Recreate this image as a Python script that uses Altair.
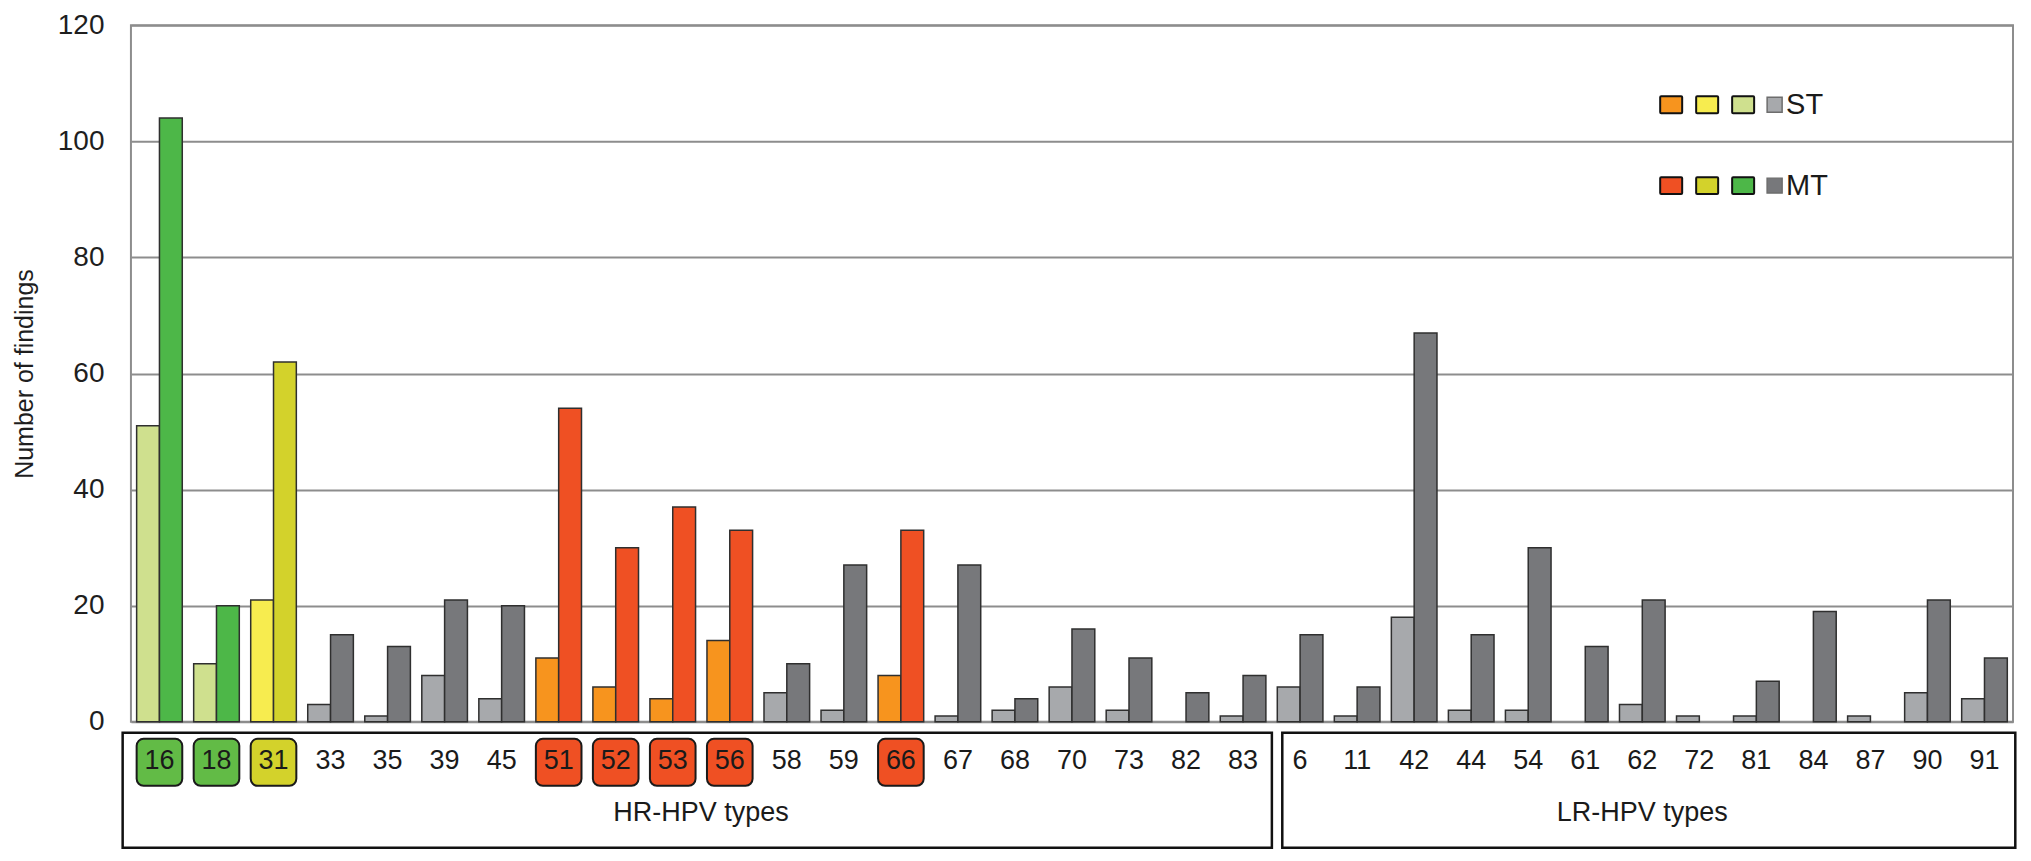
import altair as alt
import pandas as pd

# ---- data ----
hr_types = ["16", "18", "31", "33", "35", "39", "45", "51", "52", "53",
            "56", "58", "59", "66", "67", "68", "70", "73", "82", "83"]
hr_st = [51, 10, 21, 3, 1, 8, 4, 11, 6, 4, 14, 5, 2, 8, 1, 2, 6, 2, 0, 1]
hr_mt = [104, 20, 62, 15, 13, 21, 20, 54, 30, 37, 33, 10, 27, 33, 27, 4, 16, 11, 5, 8]

lr_types = ["6", "11", "42", "44", "54", "61", "62", "72", "81", "84", "87", "90", "91"]
lr_st = [6, 1, 18, 2, 2, 0, 3, 1, 1, 0, 1, 5, 4]
lr_mt = [15, 6, 67, 15, 30, 13, 21, 0, 7, 19, 0, 21, 11]

green_types = ["16", "18"]
yellow_types = ["31"]
red_types = ["51", "52", "53", "56", "66"]

series = ["ST", "MT"]
group_names = ["HR-HPV types", "LR-HPV types"]

# colours
palette = {
    "green-ST": "#cfe08e", "green-MT": "#4db748",
    "yellow-ST": "#f7ec4f", "yellow-MT": "#d3d22b",
    "red-ST": "#f7941e", "red-MT": "#ef5023",
    "gray-ST": "#a7a9ac", "gray-MT": "#77787b",
}
badge_colors = {"green": "#62bb46", "yellow": "#d3d22b", "red": "#ef5023"}

all_types = hr_types + lr_types


def group_of(t):
    if t in green_types:
        return "green"
    if t in yellow_types:
        return "yellow"
    if t in red_types:
        return "red"
    return "gray"


rows = []
for t, s, m in zip(all_types, hr_st + lr_st, hr_mt + lr_mt):
    g = group_of(t)
    rows.append({"type": t, "series": "ST", "value": s, "key": f"{g}-ST"})
    rows.append({"type": t, "series": "MT", "value": m, "key": f"{g}-MT"})
df = pd.DataFrame(rows)
df = df[df["value"] > 0]

labels = pd.DataFrame({"type": all_types})
labels["badge"] = [badge_colors.get(group_of(t)) for t in all_types]
badges = labels[labels["badge"].notna()]

W, H = 1883, 697
FONT = "Liberation Sans"

x_scale = alt.Scale(domain=all_types, paddingInner=0.2, paddingOuter=0.1)

bars = alt.Chart(df).mark_bar(stroke="#2f2f2f", strokeWidth=1.5).encode(
    x=alt.X("type:N", scale=x_scale, axis=None, sort=all_types),
    xOffset=alt.XOffset("series:N", scale=alt.Scale(domain=series, paddingInner=0, paddingOuter=0)),
    y=alt.Y("value:Q",
            scale=alt.Scale(domain=[0, 120], nice=False),
            axis=alt.Axis(values=[0, 20, 40, 60, 80, 100, 120], grid=True,
                          gridColor="#8d8d8d", gridWidth=2, domain=False, ticks=False,
                          labelFont=FONT, labelFontSize=28, labelColor="#1e1e1e",
                          labelPadding=27,
                          title="Number of findings", titleFont=FONT, titleFontSize=25,
                          titleFontWeight="normal", titleColor="#1e1e1e",
                          titleBaseline="alphabetic",
                          titleX=-98, titleY=H / 2)),
    color=alt.Color("key:N", scale=alt.Scale(domain=list(palette.keys()),
                                             range=list(palette.values())), legend=None),
)

badge_layer = alt.Chart(badges).mark_rect(cornerRadius=7, stroke="#1a1a1a", strokeWidth=2).encode(
    x=alt.X("type:N", scale=x_scale, axis=None),
    y=alt.value(714), y2=alt.value(761),
    color=alt.Color("badge:N", scale=None),
)

label_layer = alt.Chart(labels).mark_text(font=FONT, fontSize=27, color="#1a1a1a",
                                          baseline="middle").encode(
    x=alt.X("type:N", scale=x_scale, axis=None),
    y=alt.value(736),
    text="type:N",
)

hr_box = alt.Chart(pd.DataFrame({"start": [hr_types[0]], "end": [hr_types[-1]]})).mark_rect(
    fill=None, stroke="#111111", strokeWidth=2.5, xOffset=-14, x2Offset=6).encode(
    x=alt.X("start:N", scale=x_scale, axis=None, bandPosition=0),
    x2=alt.X2("end:N", bandPosition=1),
    y=alt.value(708), y2=alt.value(823),
)
lr_box = alt.Chart(pd.DataFrame({"start": [lr_types[0]], "end": [lr_types[-1]]})).mark_rect(
    fill=None, stroke="#111111", strokeWidth=2.5, xOffset=5, x2Offset=8).encode(
    x=alt.X("start:N", scale=x_scale, axis=None, bandPosition=0),
    x2=alt.X2("end:N", bandPosition=1),
    y=alt.value(708), y2=alt.value(823),
)

hr_title = alt.Chart(pd.DataFrame({"type": [hr_types[10]], "name": [group_names[0]]})).mark_text(
    font=FONT, fontSize=27, color="#1a1a1a", baseline="middle", xOffset=-6).encode(
    x=alt.X("type:N", scale=x_scale, axis=None, bandPosition=0),
    y=alt.value(788), text="name:N",
)
lr_title = alt.Chart(pd.DataFrame({"type": [lr_types[6]], "name": [group_names[1]]})).mark_text(
    font=FONT, fontSize=27, color="#1a1a1a", baseline="middle").encode(
    x=alt.X("type:N", scale=x_scale, axis=None),
    y=alt.value(788), text="name:N",
)

# ---- manual legend ----
legend_layers = []
one = pd.DataFrame({"d": [0]})
legend_rows = [("ST", 71, ["red-ST", "yellow-ST", "green-ST", "gray-ST"]),
               ("MT", 152, ["red-MT", "yellow-MT", "green-MT", "gray-MT"])]
for name, ytop, keys in legend_rows:
    for i, k in enumerate(keys[:3]):
        x0 = 1530 + 36 * i
        legend_layers.append(
            alt.Chart(one).mark_rect(stroke="#111111", strokeWidth=2, cornerRadius=1).encode(
                x=alt.value(x0), x2=alt.value(x0 + 22),
                y=alt.value(ytop), y2=alt.value(ytop + 17),
                color=alt.value(palette[k]))
        )
    legend_layers.append(
        alt.Chart(one).mark_rect(stroke="#6d6d6d", strokeWidth=1.5).encode(
            x=alt.value(1637), x2=alt.value(1652),
            y=alt.value(ytop + 1), y2=alt.value(ytop + 16),
            color=alt.value(palette[keys[3]]))
    )
    legend_layers.append(
        alt.Chart(one).mark_text(font=FONT, fontSize=29, color="#1a1a1a", align="left",
                                 baseline="middle").encode(
            x=alt.value(1656), y=alt.value(ytop + 9), text=alt.value(name))
    )

chart = alt.layer(
    bars, hr_box, lr_box, badge_layer, label_layer, hr_title, lr_title, *legend_layers
).properties(
    width=W, height=H,
    autosize=alt.AutoSizeParams(type="none"),
    padding={"left": 123, "top": 17, "right": 10, "bottom": 130},
    background="white",
).configure_view(
    stroke="#8d8d8d", strokeWidth=2
)

chart.save("out.html", embed_options={"renderer": "svg", "actions": False})
